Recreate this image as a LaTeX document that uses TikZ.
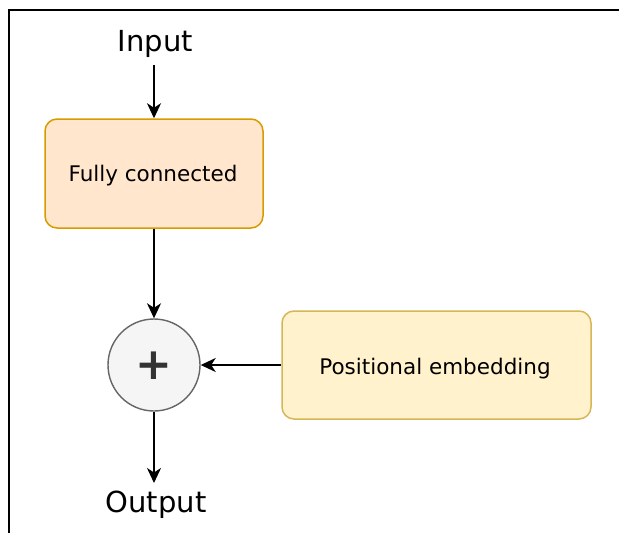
\documentclass[tikz,border=0pt]{standalone}
\usepackage{fontspec}
\setmainfont{DejaVu Sans}
\usetikzlibrary{arrows.meta}
\definecolor{fcfill}{HTML}{FFE6CC}
\definecolor{fcdraw}{HTML}{D79B00}
\definecolor{pefill}{HTML}{FFF2CC}
\definecolor{pedraw}{HTML}{D6B656}
\definecolor{sumfill}{HTML}{F5F5F5}
\definecolor{sumdraw}{HTML}{666666}
\definecolor{plusc}{HTML}{333333}
\tikzset{
  x=1pt, y=-1pt,
  blockbox/.style={draw, line width=1.5pt, rounded corners=12pt, inner sep=0pt},
  box text/.style={font=\fontsize{21.5}{26}\selectfont, inner sep=0pt, anchor=base},
  label text/.style={font=\fontsize{29}{34}\selectfont, inner sep=0pt, anchor=base},
  flow/.style={line width=1.6pt, -{Stealth[length=15pt,width=14pt,inset=4.5pt]}},
}
\begin{document}
\begin{tikzpicture}
  \useasboundingbox (0,0) rectangle (619,533);
  % frame (open at the right and bottom)
  \draw[line width=1.4pt] (9,533) -- (9,10) -- (619,10);

  \node[label text] (in) at (155.5,51.5) {Input};
  \coordinate (intail) at (154,65);

  \node[blockbox, fill=fcfill, draw=fcdraw, minimum width=218pt, minimum height=109pt]
    (fc) at (154,173.5) {};
  \node[box text] (fctext) at (153,181) {Fully connected};

  \node[circle, draw=sumdraw, fill=sumfill, line width=1.4pt, minimum size=92pt, inner sep=0pt]
    (sum) at (154,365) {};
  \node[text=plusc, font=\fontsize{44}{44}\selectfont\bfseries, inner sep=0pt] (plus) at (154,365.5) {+};

  \node[blockbox, fill=pefill, draw=pedraw, minimum width=309pt, minimum height=108pt]
    (pe) at (436.5,365) {};
  \node[box text] (petext) at (435,374) {Positional embedding};

  \node[label text] (out) at (156,512.5) {Output};
  \coordinate (outtip) at (154,483);

  \draw[flow] (intail) -- (fc.north);
  \draw[flow] (fc.south) -- (sum.north);
  \draw[flow] (pe.west) -- (sum.east);
  \draw[flow] (sum.south) -- (outtip);
\end{tikzpicture}
\end{document}
